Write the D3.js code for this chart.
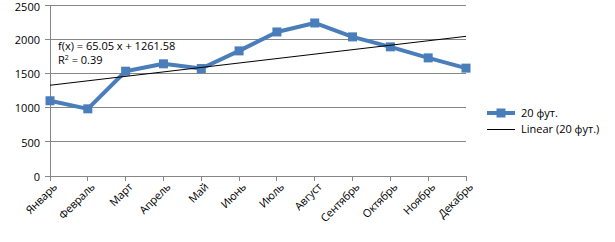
<!DOCTYPE html>
<html><head><meta charset="utf-8">
<script src="https://cdn.jsdelivr.net/npm/d3@7"></script>
<style>body{margin:0;background:#fff}svg{display:block}text{font-family:"Open Sans","DejaVu Sans",sans-serif;fill:#000}</style>
</head><body><svg id="c" width="615" height="242"></svg>
<script>
const categories = ["Январь","Февраль","Март","Апрель","Май","Июнь","Июль","Август","Сентябрь","Октябрь","Ноябрь","Декабрь"];
const values = [1100, 982, 1532, 1640, 1571, 1829, 2106, 2237, 2034, 1888, 1727, 1577];
const yTicks = [0, 500, 1000, 1500, 2000, 2500];
const seriesName = "20 фут.";
const trendName = "Linear (20 фут.)";
const trendSlope = 65.05, trendIntercept = 1261.58, trendR2 = 0.39;

const svg = d3.select("#c");
const L = 50, R = 466, T = 5, B = 176;
const x = d3.scalePoint().domain(categories).range([L, R]);
const y = d3.scaleLinear().domain([0, 2500]).range([B, T]);
const grid = "#868686";

// gridlines
svg.append("g").selectAll("line").data(yTicks).join("line")
  .attr("x1", L - 5).attr("x2", R).attr("y1", d => y(d)).attr("y2", d => y(d))
  .attr("stroke", grid).attr("stroke-width", 1).attr("shape-rendering", "crispEdges");
// y axis line
svg.append("line").attr("x1", L).attr("x2", L).attr("y1", y(2500)).attr("y2", B + 0.5)
  .attr("stroke", grid).attr("shape-rendering", "crispEdges");
// y labels
svg.append("g").selectAll("text").data(yTicks).join("text")
  .attr("x", L - 10).attr("y", d => Math.max(y(d) + 1, 7.5)).attr("dy", "0.35em").attr("text-anchor", "end")
  .attr("font-size", 11).text(d => d);
// x ticks
svg.append("g").selectAll("line").data(categories).join("line")
  .attr("x1", d => x(d)).attr("x2", d => x(d)).attr("y1", B).attr("y2", B + 5)
  .attr("stroke", grid).attr("shape-rendering", "crispEdges");
// x labels
svg.append("g").selectAll("text").data(categories).join("text")
  .attr("transform", d => `translate(${x(d) + 5},${B + 9}) rotate(-45)`)
  .attr("text-anchor", "end").attr("dy", "0.35em").attr("font-size", 11).attr("letter-spacing", "-0.2px")
  .text(d => d);

// series
const color = "#4a7ebb";
const line = d3.line().x((d, i) => x(categories[i])).y(d => y(d));
svg.append("path").datum(values).attr("d", line).attr("fill", "none")
  .attr("stroke", color).attr("stroke-width", 4).attr("stroke-linejoin", "round");
svg.append("g").selectAll("rect").data(values).join("rect")
  .attr("x", (d, i) => x(categories[i]) - 4.5).attr("y", d => y(d) - 4.5)
  .attr("width", 9).attr("height", 9).attr("fill", color);

// trend
const tr = i => trendIntercept + trendSlope * (i + 1);
svg.append("line").attr("x1", x(categories[0])).attr("y1", y(tr(0)))
  .attr("x2", x(categories[11])).attr("y2", y(tr(11)))
  .attr("stroke", "#000").attr("stroke-width", 1);

// equation
svg.append("text").attr("x", 58).attr("y", 50).attr("font-size", 11)
  .text(`f(x) = ${trendSlope.toFixed(2)} x + ${trendIntercept.toFixed(2)}`);
const r2 = svg.append("text").attr("x", 58).attr("y", 64).attr("font-size", 11);
r2.append("tspan").text("R");
r2.append("tspan").attr("font-size", 7).attr("dy", -4).text("2");
r2.append("tspan").attr("dy", 4).text(` = ${trendR2.toFixed(2)}`);

// legend
const lx1 = 487, lx2 = 515;
const ly1 = 113, ly2 = 129.5;
svg.append("line").attr("x1", lx1).attr("x2", lx2).attr("y1", ly1).attr("y2", ly1)
  .attr("stroke", color).attr("stroke-width", 4);
svg.append("rect").attr("x", (lx1 + lx2) / 2 - 4.5).attr("y", ly1 - 4.5).attr("width", 9).attr("height", 9).attr("fill", color);
svg.append("text").attr("x", 521).attr("y", ly1).attr("dy", "0.35em").attr("font-size", 11).text(seriesName);
svg.append("line").attr("x1", lx1).attr("x2", lx2).attr("y1", ly2).attr("y2", ly2)
  .attr("stroke", "#000").attr("stroke-width", 1);
svg.append("text").attr("x", 521).attr("y", ly2).attr("dy", "0.35em").attr("font-size", 11).text(trendName);
</script></body></html>
